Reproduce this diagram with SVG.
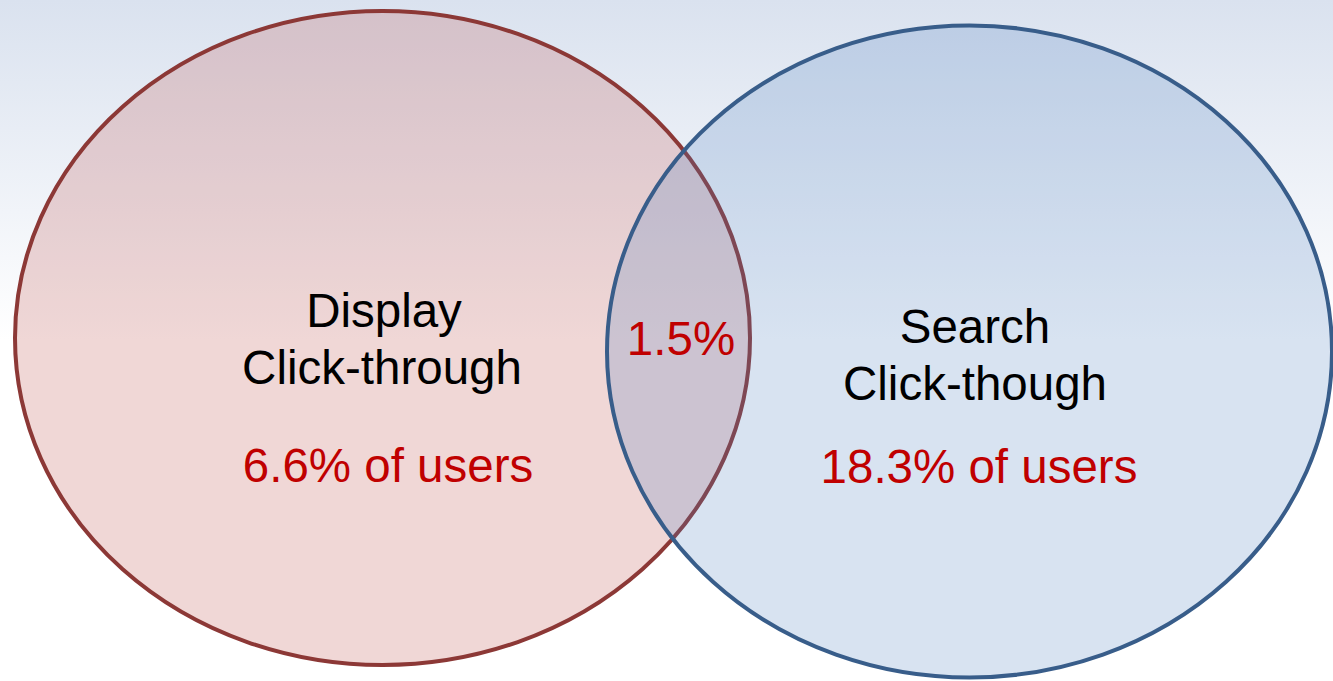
<svg xmlns="http://www.w3.org/2000/svg" width="1333" height="681" viewBox="0 0 1333 681">
  <defs>
    <linearGradient id="bg" x1="0" y1="0" x2="0" y2="1">
      <stop offset="0" stop-color="#dae2ef"/>
      <stop offset="0.5" stop-color="#ffffff"/>
      <stop offset="1" stop-color="#ffffff"/>
    </linearGradient>
  </defs>
  <style>
    text { font-family: "Liberation Sans", Arial, sans-serif; font-size: 47.5px; text-anchor: middle; }
    .lbl { fill: #000000; }
    .val { fill: #c00000; }
  </style>
  <rect x="0" y="0" width="1333" height="681" fill="url(#bg)"/>
  <g id="display">
    <ellipse cx="382.5" cy="338" rx="367.5" ry="327" fill="#c0504d" fill-opacity="0.23" stroke="#8c3836" stroke-width="4"/>
  </g>
  <g id="search">
    <ellipse cx="969.5" cy="351.5" rx="362.5" ry="326" fill="#4f81bd" fill-opacity="0.22" stroke="#385d8a" stroke-width="4"/>
  </g>
  <g id="connectors"></g>
  <g id="labels">
    <text class="lbl" x="384" y="327">Display</text>
    <text class="lbl" x="382" y="384">Click-through</text>
    <text class="val" x="388" y="482">6.6% of users</text>
    <text class="val" x="681" y="355">1.5%</text>
    <text class="lbl" x="975" y="343">Search</text>
    <text class="lbl" x="975" y="400">Click-though</text>
    <text class="val" x="979" y="483">18.3% of users</text>
  </g>
</svg>
